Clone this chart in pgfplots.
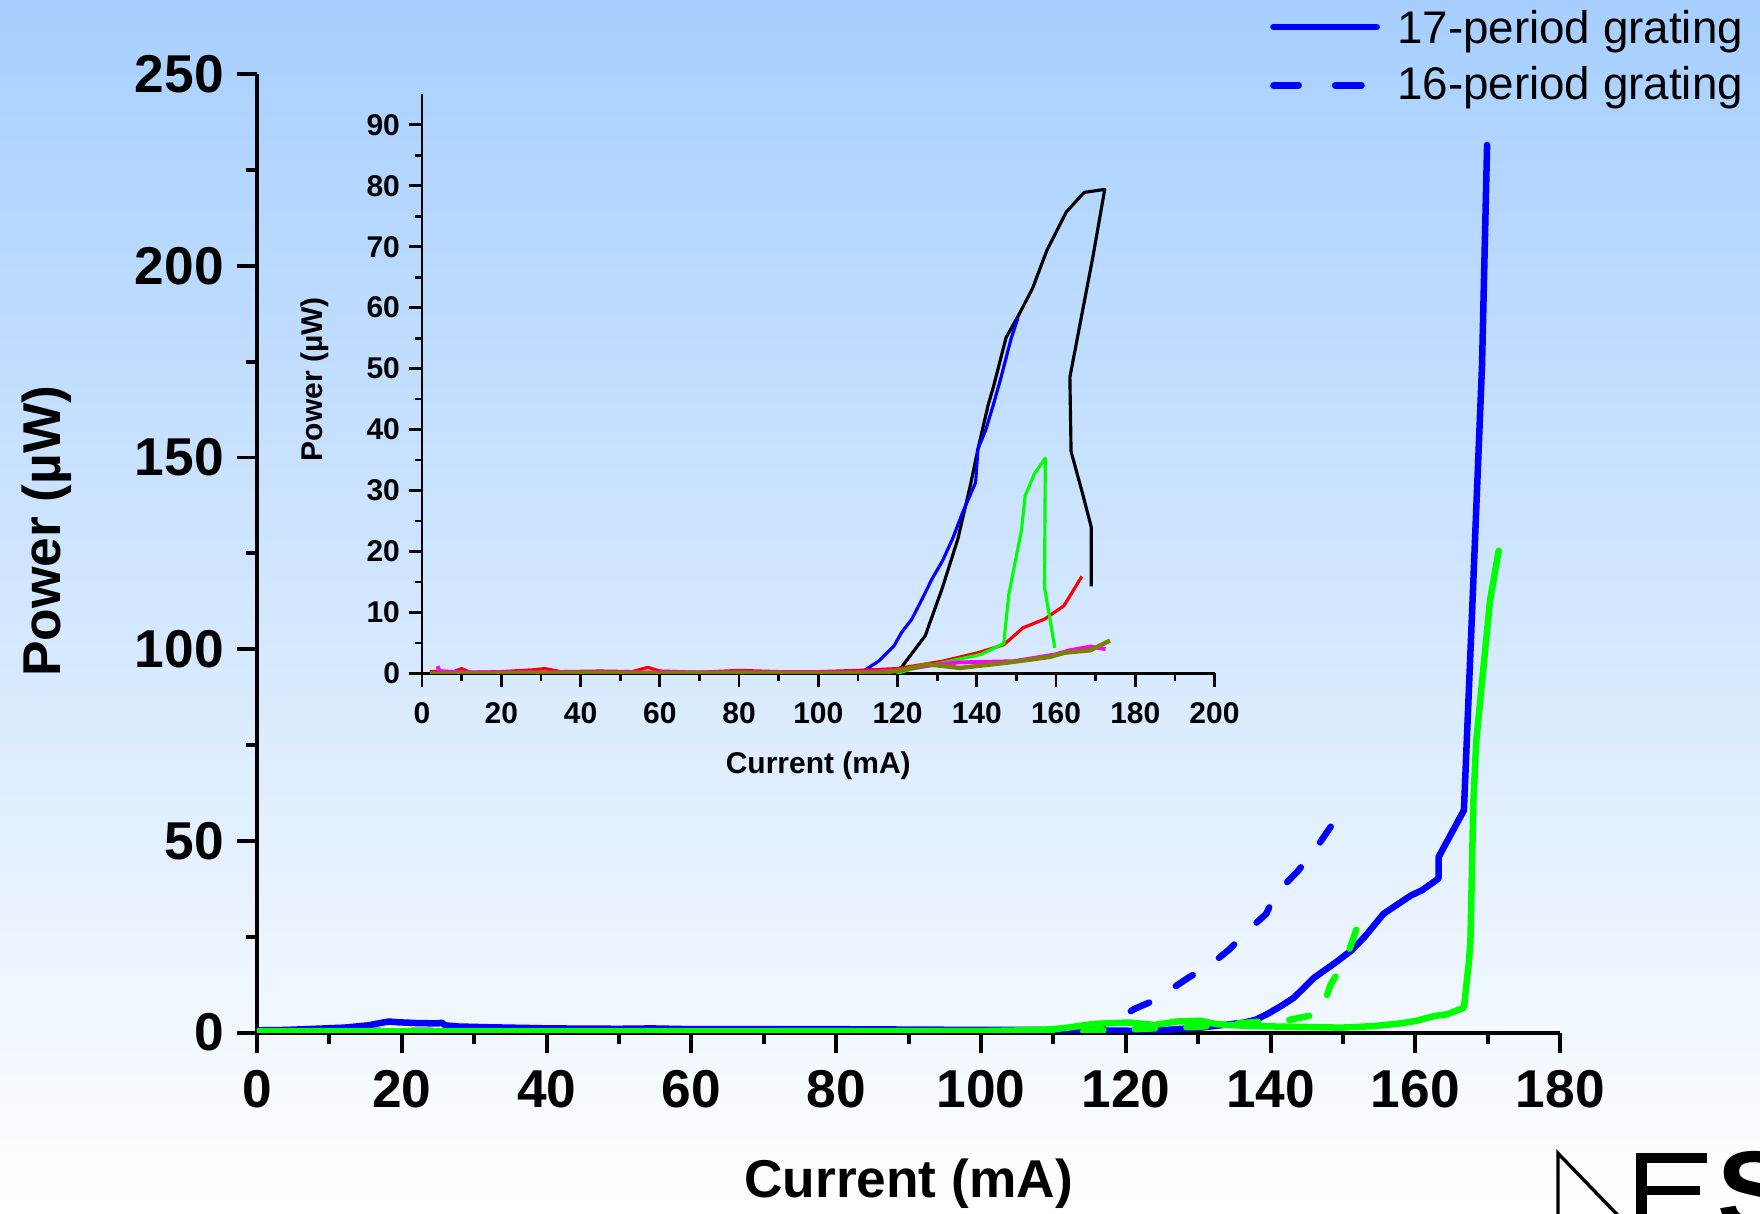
\documentclass[border=0pt]{standalone}
\usepackage{fontspec}
\setmainfont{Liberation Sans}
\usepackage{pgfplots}
\pgfplotsset{compat=1.18}
\definecolor{bgtop}{RGB}{166,207,255}
\definecolor{pblue}{RGB}{0,0,255}
\definecolor{pgreen}{RGB}{0,255,0}
\definecolor{pred}{RGB}{255,0,0}
\definecolor{pmag}{RGB}{255,0,255}
\definecolor{polive}{RGB}{128,128,0}
\begin{document}
\begin{tikzpicture}
\useasboundingbox (0,0) rectangle (15.68,10.81);
\shade[top color=bgtop, bottom color=white] (0,0) rectangle (15.68,10.81);

% ---------------- main axis ----------------
\begin{axis}[
  at={(2.29cm,1.61cm)}, anchor=south west,
  scale only axis, width=11.61cm, height=8.54cm,
  xmin=0, xmax=180, ymin=0, ymax=250,
  axis lines=left, axis line style={-, line width=1pt},
  tick align=outside,
  xtick={0,20,...,180}, minor xtick={10,30,...,170},
  ytick={0,50,...,250}, minor ytick={25,75,...,225},
  major tick length=1.8mm, minor tick length=1.0mm,
  tick style={line width=1pt, black},
  ticklabel style={font=\bfseries\fontsize{13.5}{16}\selectfont, inner sep=0pt},
  /pgf/number format/assume math mode=true,
  xticklabel style={anchor=north, yshift=-1.5mm},
  yticklabel style={anchor=east, xshift=-1.1mm},
  xlabel={Current (mA)}, ylabel={Power (µW)},
  label style={font=\bfseries\fontsize{13.5}{16}\selectfont},
  xlabel style={at={(axis description cs:0.5,-0.158)}, anchor=center},
  ylabel style={at={(axis description cs:-0.161,0.523)}, anchor=center},
  every axis plot/.append style={line width=1.65pt, line join=round, line cap=round},
]
% 17-period grating (blue solid)
\addplot[pblue] coordinates {
(0,0.6) (4,0.7) (8,1.0) (12,1.3) (15.4,1.9) (17,2.5) (18.2,2.9) (19.5,2.7) (22,2.5) (25,2.4) (25.5,2.6) (26,1.9) (27.8,1.6) (32,1.4) (40.7,1.1) (50,1.0) (54.5,1.1) (60,0.9) (70,0.9) (80,0.9) (90,0.8) (100,0.7) (108,0.7) (112,0.6) (116,0.5) (120,0.5) (123.4,0.4) (127,0.9) (130.3,1.3) (133,1.9) (136.3,2.6) (138,3.4) (139.5,4.8) (141.5,7) (143.2,9.1) (146,14.3) (149.2,18.6) (151.2,21.5) (153,25) (155.6,31) (159.4,35.8) (160.9,37.1) (163.2,40.2) (163.2,45.8) (166.7,58) (167.9,113) (169.2,174) (169.9,231.5)
};
% 16-period grating (blue dashed)
\addplot[pblue, dash pattern=on 1.8mm off 2.8mm] coordinates {
(0,0.3) (10,0.3) (20,0.5) (30,0.4) (40,0.4) (60,0.3) (80,0.3) (100,0.3) (110,0.5) (113,0.8) (116.6,1.7) (119.3,3.9) (121.1,6.1) (123.9,8.4) (126.4,11.5) (128.7,14.4) (131.7,17.7) (134.3,21.7) (136.5,26) (139.4,31) (140.6,36) (143.7,42) (146.1,47.6) (148.3,53.7)
};
% green solid
\addplot[pgreen] coordinates {
(0,0.3) (20,0.3) (40,0.3) (60,0.3) (80,0.4) (100,0.4) (106,0.6) (110,0.9) (112,1.3) (115.2,2.2) (117,2.4) (119.8,2.6) (120.7,2.6) (123.9,2.0) (127.1,2.9) (130.3,3.1) (132.6,2.2) (137.2,1.7) (144.1,1.5) (149.7,1.3) (154.2,1.7) (157.9,2.4) (160.2,3.1) (162.5,4.3) (164.4,4.8) (166.7,6.5) (167.4,18.7) (167.6,24) (168.0,60) (168.4,76) (170.3,112.6) (171.5,125.7)
};
% green dashed
\addplot[pgreen, dash pattern=on 1.8mm off 2.8mm] coordinates {
(0,0.2) (20,0.2) (40,0.2) (60,0.2) (80,0.2) (100,0.2) (110,0.3) (115,0.5) (120,0.8) (125,1.2) (130,1.5) (135,2.3) (138.6,2.9) (141.6,3.1) (142.5,3.3) (146.9,5.0) (148.3,12.6) (150.3,18.7) (151.2,23.4) (152.2,28.9) (154.6,32.6)
};
\end{axis}

% ---------------- inset axis ----------------
\begin{axis}[
  at={(3.76cm,4.81cm)}, anchor=south west,
  scale only axis, width=7.06cm, height=5.16cm,
  xmin=0, xmax=200, ymin=0, ymax=95,
  axis lines=left, axis line style={-, line width=0.7pt},
  tick align=outside,
  xtick={0,20,...,200}, minor xtick={10,30,...,190},
  ytick={0,10,...,90}, minor ytick={5,15,...,85},
  major tick length=1.2mm, minor tick length=0.65mm,
  tick style={line width=0.7pt, black},
  ticklabel style={font=\bfseries\fontsize{7.6}{9}\selectfont, inner sep=0pt},
  /pgf/number format/assume math mode=true,
  xticklabel style={anchor=north, yshift=-1.35mm},
  yticklabel style={anchor=east, xshift=-0.7mm},
  xlabel={Current (mA)}, ylabel={Power (µW)},
  label style={font=\bfseries\fontsize{7.6}{9}\selectfont},
  xlabel style={at={(axis description cs:0.5,-0.159)}, anchor=center},
  ylabel style={at={(axis description cs:-0.136,0.508)}, anchor=center},
  every axis plot/.append style={line width=0.8pt, line join=round},
]
\addplot[black] coordinates {
(2,0.1) (20,0.1) (40,0.1) (60,0.1) (80,0.2) (100,0.1) (110,0.1) (118.5,0) (121,1) (127,6.2) (131.3,14) (135.2,22) (138.4,30.9) (140.3,36.8) (142.9,44.1) (144.2,47) (147.4,55.1) (150.6,58.8) (154.1,63.2) (157.7,69.4) (162.6,75.7) (167.1,78.9) (172.3,79.4) (169.3,68.3) (166.5,58.8) (163.5,48.6) (163.8,36.4) (166.7,29.5) (168.9,24) (168.9,14.3)
};
\addplot[pblue] coordinates {
(2,0) (20,0) (60,0) (100,0) (110.7,0.1) (115.2,2) (119.1,4.5) (121,6.7) (123.6,8.9) (126.2,12.2) (128.7,15.5) (131.3,18.4) (133.9,22.1) (136.5,26.5) (139.7,31.3) (140.3,36.8) (142.3,40) (144.2,44.1) (146.1,48.5) (148.7,55) (150.4,58.3)
};
\addplot[pred] coordinates {
(2,0.3) (5,0.4) (8,0.3) (10,0.8) (12,0.2) (20,0.3) (28,0.6) (31,0.8) (35,0.3) (45,0.4) (53,0.3) (57,1.0) (60,0.4) (70,0.2) (80,0.5) (90,0.3) (100,0.3) (110,0.5) (120,0.8) (131.3,2) (140.3,3.4) (146.8,4.7) (151.7,7.5) (157.1,8.9) (162,11.1) (166.5,15.9)
};
\addplot[pgreen] coordinates {
(119.7,0) (123.6,0.7) (127.5,1.2) (135.2,2.3) (141,3.1) (146.8,4.9) (148.1,13) (151.3,23.6) (152.2,29.1) (154.5,32.7) (157.3,35.3) (157.1,14.1) (159.7,4.2)
};
\addplot[pmag, line width=1pt] coordinates {
(3.9,1.2) (4.5,0.3) (10,0.2) (30,0.2) (60,0.2) (90,0.2) (110,0.2) (120,0.5) (128,1.3) (135.2,1.8) (149.3,2) (159.7,3.1) (163.5,3.8) (168.7,4.4) (172.5,4)
};
\addplot[polive, line width=1.1pt] coordinates {
(2,0) (20,0) (40,0.1) (60,0) (80,0.1) (100,0) (115,0.1) (120,0.4) (127.5,1.5) (135.8,0.9) (148.1,1.8) (158.4,2.7) (162.2,3.4) (168.7,3.8) (173.6,5.4)
};
\end{axis}

% ---------------- legend ----------------
\draw[pblue, line width=1.65pt, line cap=round] (11.345,10.57) -- (12.265,10.57);
\draw[pblue, line width=1.65pt, line cap=round] (11.345,10.05) -- (11.57,10.05);
\draw[pblue, line width=1.65pt, line cap=round] (11.895,10.05) -- (12.13,10.05);
\node[anchor=base west, inner sep=0pt, font=\fontsize{11.6}{14}\selectfont] at (12.44,10.424) {17-period grating};
\node[anchor=base west, inner sep=0pt, font=\fontsize{11.6}{14}\selectfont] at (12.44,9.919) {16-period grating};

% ---------------- logo ----------------
\begin{scope}
\clip (0,0) rectangle (15.68,10.81);
\draw[black, line width=0.3mm] (13.88,-0.2) -- (13.88,0.535) -- (14.59,-0.2);
\fill[black] (14.576,-0.2) rectangle (14.67,0.535);
\fill[black] (14.576,0.446) rectangle (15.205,0.535);
\fill[black] (14.576,0.163) rectangle (15.146,0.241);
\node[anchor=north west, inner sep=0pt, font=\bfseries\fontsize{28}{30}\selectfont] at (15.29,0.56) {S};
\end{scope}
\end{tikzpicture}
\end{document}
